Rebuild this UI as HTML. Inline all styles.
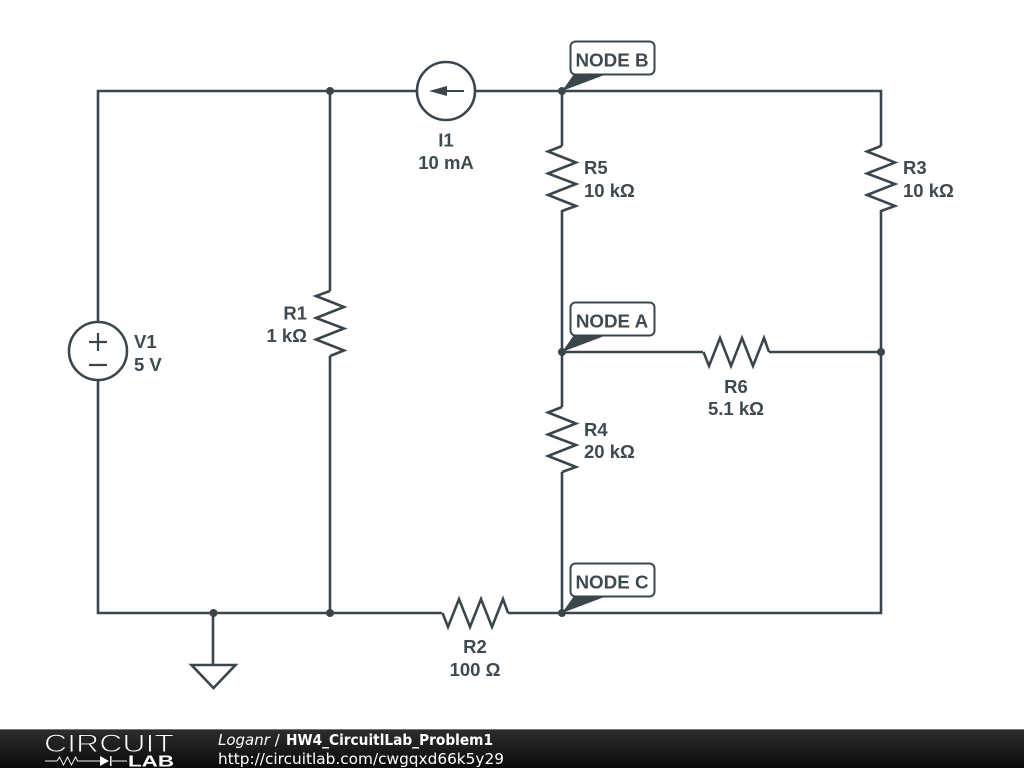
<!DOCTYPE html>
<html><head><meta charset="utf-8"><style>
html,body{margin:0;padding:0;background:#fff;width:1024px;height:768px;overflow:hidden}
svg{display:block}
.t{font-family:"Liberation Sans",sans-serif;font-size:18.5px;font-weight:bold;fill:#3f4a50}
.n{font-family:"Liberation Sans",sans-serif;font-size:18.8px;font-weight:bold;fill:#3f4a50}
.f{font-family:"DejaVu Sans",sans-serif;font-size:15px;fill:#fff}
</style></head><body>
<svg width="1024" height="768" viewBox="0 0 1024 768" xmlns="http://www.w3.org/2000/svg">
<defs><linearGradient id="g" x1="0" y1="0" x2="0" y2="1"><stop offset="0" stop-color="#2e2e2e"/><stop offset="1" stop-color="#0a0a0a"/></linearGradient></defs>
<g fill="none" stroke="#3b464c" stroke-width="2.6" stroke-linejoin="miter">
<path d="M98 322V91H417M475 91H881V146M881 210V352M98 380V613H442M508 613H881V352M330 91V291M330 356V613M562 91V146M562 210V407M562 472V613M562 352H703M769 352H881M213 613V665"/>
<path d="M562 146l-14 5.500 28 11 -28 11 28 10.500 -28 11 28 11 -14 5"/>
<path d="M881 146l-14 5.500 28 11 -28 11 28 10.500 -28 11 28 11 -14 5"/>
<path d="M562 407l-14 5.500 28 11 -28 11 28 10.500 -28 11 28 11 -14 5"/>
<path d="M330 291l-14 5 28 11 -28 11 28 10.500 -28 11 28 11 -14 5.500"/>
<path d="M442.500 613l5.500 14 11 -28 11 28 11 -28 11 28 11 -28 5 14"/>
<path d="M703.500 352l5.500 14 11 -28 11 28 11 -28 11 28 11 -28 5 14"/>
<circle cx="446" cy="91" r="29"/>
<circle cx="98" cy="351" r="29"/>
<path d="M98 333V351M89 342H107M89 365H107" stroke-width="2.200"/>
<path d="M191.500 665H235.500L213.500 688Z"/>
<path d="M464 91H440" stroke-width="2"/>
</g>
<path d="M429 91L447 86V96Z" fill="#3b464c"/>
<g fill="#fff" stroke="#3b464c" stroke-width="2">
<rect x="570.500" y="41.500" width="84" height="33" rx="5"/>
<rect x="570.500" y="302.500" width="84" height="33" rx="5"/>
<rect x="570.500" y="563.500" width="84" height="33" rx="5"/>
</g>
<g fill="#3b464c">
<circle cx="330" cy="91" r="4"/><circle cx="562" cy="91" r="4"/><circle cx="562" cy="352" r="4"/><circle cx="881" cy="352" r="4"/><circle cx="562" cy="613" r="4"/><circle cx="330" cy="613" r="4"/><circle cx="213.500" cy="613" r="4"/>
<path d="M562 91L574 74H607Z"/><path d="M562 352L574 335H607Z"/><path d="M562 613L574 596H607Z"/>
</g>
<text class="n" x="612" y="66.500" text-anchor="middle">NODE B</text>
<text class="n" x="612" y="327.500" text-anchor="middle">NODE A</text>
<text class="n" x="612" y="588.500" text-anchor="middle">NODE C</text>
<text class="t" x="446" y="146.500" text-anchor="middle">I1</text>
<text class="t" x="446" y="169" text-anchor="middle">10 mA</text>
<text class="t" x="584" y="174">R5</text>
<text class="t" x="584" y="197">10 kΩ</text>
<text class="t" x="903" y="174">R3</text>
<text class="t" x="903" y="197">10 kΩ</text>
<text class="t" x="584" y="436">R4</text>
<text class="t" x="584" y="458">20 kΩ</text>
<text class="t" x="134" y="348">V1</text>
<text class="t" x="134" y="371">5 V</text>
<text class="t" x="307" y="319.500" text-anchor="end">R1</text>
<text class="t" x="307" y="342" text-anchor="end">1 kΩ</text>
<text class="t" x="475" y="653" text-anchor="middle">R2</text>
<text class="t" x="475" y="676" text-anchor="middle">100 Ω</text>
<text class="t" x="736" y="393" text-anchor="middle">R6</text>
<text class="t" x="736" y="415" text-anchor="middle">5.1 kΩ</text>
<rect x="0" y="729" width="1024" height="39" fill="url(#g)"/>
<rect x="0" y="729" width="1024" height="1" fill="#777"/>
<text x="44" y="752" font-family="Liberation Sans,sans-serif" font-size="25" fill="#fff" stroke="#222" stroke-width=".9" textLength="130" lengthAdjust="spacingAndGlyphs">CIRCUIT</text>
<path d="M45 761H57l2.500 -4 4 8 4 -8 4 8 4 -8 2 4H100M112 761H127" fill="none" stroke="#eee" stroke-width="1"/>
<path d="M100 756V766L109 761ZM110 756V766H111.500V756Z" fill="#fff"/>
<text x="128" y="766.500" font-family="Liberation Sans,sans-serif" font-size="16" font-weight="bold" fill="#fff" textLength="46" lengthAdjust="spacingAndGlyphs">LAB</text>
<text class="f" x="218" y="745"><tspan font-style="italic">Loganr</tspan> /</text>
<text class="f" x="286" y="745" font-weight="bold" textLength="207" lengthAdjust="spacingAndGlyphs">HW4_CircuitlLab_Problem1</text>
<text class="f" x="218" y="764" textLength="286" lengthAdjust="spacingAndGlyphs">http://circuitlab.com/cwgqxd66k5y29</text>
</svg>
</body></html>
